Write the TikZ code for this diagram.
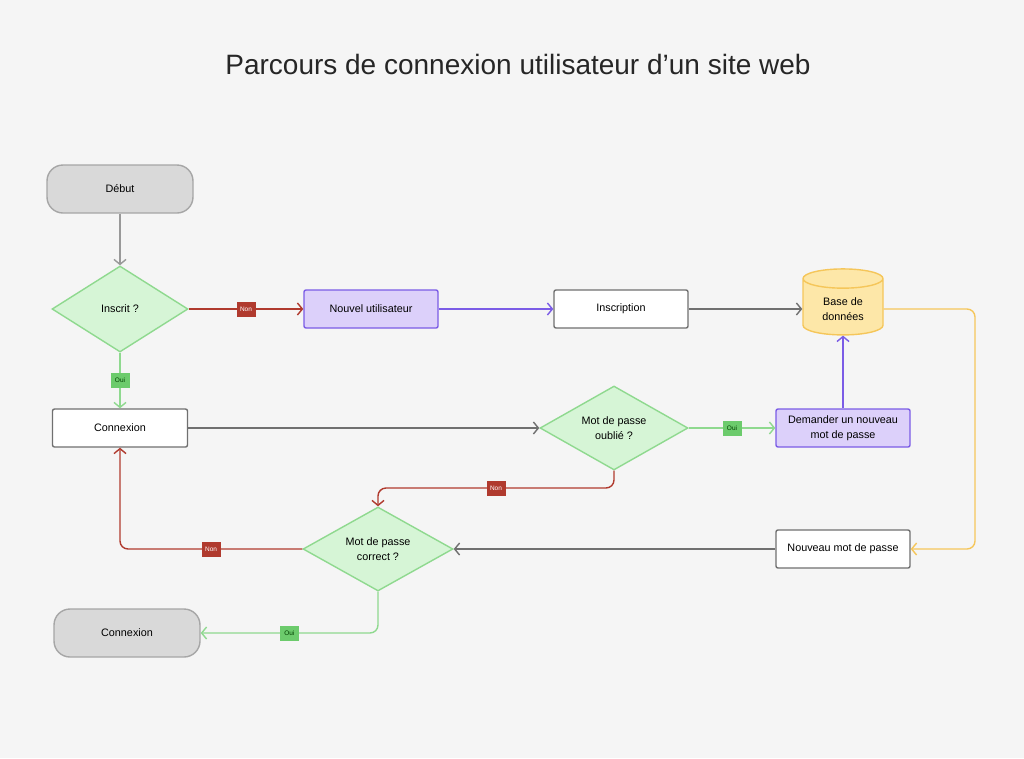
\documentclass[tikz,border=0pt]{standalone}
\usepackage{fontspec}
\setmainfont{Liberation Sans}
\usetikzlibrary{shapes.geometric,arrows.meta,positioning}
\definecolor{bgc}{HTML}{F5F5F5}
\definecolor{grayline}{HTML}{707070}
\definecolor{grayfill}{HTML}{D9D9D9}
\definecolor{greenline}{HTML}{8FD98F}
\definecolor{greenfill}{HTML}{D6F5D6}
\definecolor{greentag}{HTML}{6CCB6C}
\definecolor{redline}{HTML}{B03A2E}
\definecolor{purpline}{HTML}{7B5CE6}
\definecolor{purpfill}{HTML}{DCD0FA}
\definecolor{yelline}{HTML}{F5C65A}
\definecolor{yelfill}{HTML}{FDE7A8}
\tikzset{
  box/.style={rectangle,draw=grayline,fill=white,line width=1.4pt,rounded corners=2pt,minimum width=134pt,minimum height=38pt,font=\fontsize{10.8}{15}\selectfont,align=center},
  term/.style={box,fill=grayfill,draw=gray!70,rounded corners=16pt,minimum width=146pt,minimum height=48pt},
  purp/.style={box,fill=purpfill,draw=purpline},
  decision/.style={diamond,aspect=1.6,draw=greenline,fill=greenfill,line width=1.4pt,inner sep=0pt,minimum width=148pt,minimum height=84pt,font=\fontsize{10.8}{15}\selectfont,align=center},
  base/.style={cylinder,shape border rotate=90,aspect=0.4,draw=yelline,fill=yelfill,line width=1.4pt,minimum width=80pt,minimum height=66pt,font=\fontsize{10.8}{15}\selectfont,align=center},
  flow/.style={line width=1.4pt,-{Straight Barb[length=5pt,width=12pt]},rounded corners=8pt},
  tag/.style={rectangle,sharp corners,inner sep=1pt,minimum width=19pt,minimum height=15pt,font=\fontsize{6.5}{7}\selectfont},
  non/.style={tag,fill=redline,text=white},
  oui/.style={tag,fill=greentag,text=green!25!black}
}
\begin{document}
\begin{tikzpicture}[x=1pt,y=-1pt]
   \fill[bgc] (0,0) rectangle (1024,758);
   \node[text=black!85] (title) at (518,64) {\fontsize{28}{32}\selectfont Parcours de connexion utilisateur d’un site web};
   % premiere ligne
   \node[term] (debut) at (120,189) {Début};
   \node[decision,minimum width=136pt,minimum height=86pt] (inscrit) at (120,309) {Inscrit ?};
   \node[purp] (nouvel) at (371,309) {Nouvel utilisateur};
   \node[box] (inscription) at (621,309) {Inscription};
   \node[base] (bdd) at (843,309) {Base de\\données};
   % deuxieme ligne
   \node[box,minimum width=135pt] (connexion) at (120,428) {Connexion};
   \node[decision] (oublie) at (614,428) {Mot de passe\\oublié ?};
   \node[purp] (demander) at (843,428) {Demander un nouveau\\mot de passe};
   % troisieme ligne
   \node[decision,minimum width=150pt] (correct) at (378,549) {Mot de passe\\correct ?};
   \node[box] (nouveau) at (843,549) {Nouveau mot de passe};
   \node[term] (fin) at (127,633) {Connexion};
   % liens
   \draw[flow,gray!80] (debut) -- (inscrit);
   \draw[flow,redline] (inscrit) -- node[non]{Non} (nouvel);
   \draw[flow,greenline] (inscrit) -- node[oui,pos=0.5]{Oui} (connexion);
   \draw[flow,purpline] (nouvel) -- (inscription);
   \draw[flow,grayline] (inscription) -- (bdd);
   \draw[flow,yelline] (bdd.east) -- (975,309) -- (975,549) -- (nouveau.east);
   \draw[flow,purpline] (demander) -- (bdd);
   \draw[flow,grayline] (connexion) -- (oublie);
   \draw[flow,greenline] (oublie) -- node[oui]{Oui} (demander);
   \draw[flow,redline] (oublie.south) -- (614,488) -- node[non]{Non} (378,488) -- (correct.north);
   \draw[flow,grayline] (nouveau) -- (correct);
   \draw[flow,redline] (correct.west) -- node[non]{Non} (120,549) -- (connexion.south);
   \draw[flow,greenline] (correct.south) -- (378,633) -- node[oui]{Oui} (fin.east);
\end{tikzpicture}
\end{document}
